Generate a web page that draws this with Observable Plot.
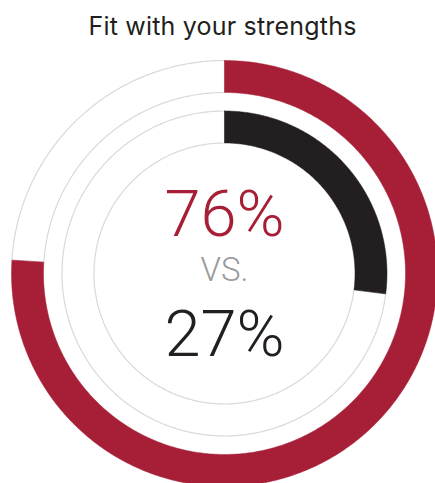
<!DOCTYPE html>
<html>
<head>
<meta charset="utf-8">
<script src="https://cdn.jsdelivr.net/npm/d3@7"></script>
<script src="https://cdn.jsdelivr.net/npm/@observablehq/plot@0.6"></script>
<style>
  html, body { margin: 0; padding: 0; background: #fff; overflow: hidden; }
  #title { height: 50px; width: 435px; font-family: "Inter", "Roboto", sans-serif; font-size: 25px; color: #231f20; text-align: center; line-height: 52px; box-sizing: border-box; padding-left: 10px; letter-spacing: 0.2px; overflow: hidden; }
  #chart svg { overflow: visible; display: block; }
</style>
</head>
<body>
<div id="title"></div>
<div id="chart"></div>
<script>
const title = "Fit with your strengths";
const series = ["First", "Second"];
const values = [76, 27];
const colors = ["#a71f36", "#231f20"];
const separator = "VS.";

document.getElementById("title").textContent = title;

// ring layout (pixels): outer and inner radius per series
const rings = [[213, 181], [162.5, 130.5]];

function arcPoly(r0, r1, a0, a1, key, color) {
  const pts = [];
  const n = Math.max(2, Math.ceil(Math.abs(a1 - a0) / 0.5));
  for (let i = 0; i <= n; i++) {
    const a = (a0 + (a1 - a0) * i / n) * Math.PI / 180;
    pts.push({x: r0 * Math.sin(a), y: -r0 * Math.cos(a), key, color});
  }
  for (let i = n; i >= 0; i--) {
    const a = (a0 + (a1 - a0) * i / n) * Math.PI / 180;
    pts.push({x: r1 * Math.sin(a), y: -r1 * Math.cos(a), key, color});
  }
  pts.push({...pts[0]});
  return pts;
}

const filled = [];
const rest = [];
series.forEach((s, i) => {
  const end = values[i] / 100 * 360;
  filled.push(...arcPoly(rings[i][0], rings[i][1], 0, end, s, colors[i]));
  rest.push(...arcPoly(rings[i][0], rings[i][1], end, 360, s, "#ffffff"));
});

const labels = [
  {t: values[0] + "%", y: -58, c: colors[0], size: 65},
  {t: separator, y: -3, c: "#9a9a9a", size: 33},
  {t: values[1] + "%", y: 62, c: colors[1], size: 65}
];

const H = 450;
const chart = Plot.plot({
  width: 435,
  height: H,
  margin: 0,
  x: {type: "linear", domain: [-224, 211], range: [0, 435], axis: null},
  y: {type: "linear", domain: [-223, H - 223], range: [0, H], axis: null},
  marks: [
    Plot.line(rest, {x: "x", y: "y", z: "key", fill: "#ffffff", stroke: "#d9d9d9", strokeWidth: 1.2, curve: "linear"}),
    Plot.line(filled, {x: "x", y: "y", z: "key", fill: "color", stroke: "color", strokeWidth: 0.5, curve: "linear"}),
    Plot.text(labels, {x: () => 0, y: "y", text: "t", fill: "c", fontSize: "size", fontFamily: "Roboto", fontWeight: 300, textAnchor: "middle", lineAnchor: "middle"})
  ]
});
document.getElementById("chart").appendChild(chart);
</script>
</body>
</html>
